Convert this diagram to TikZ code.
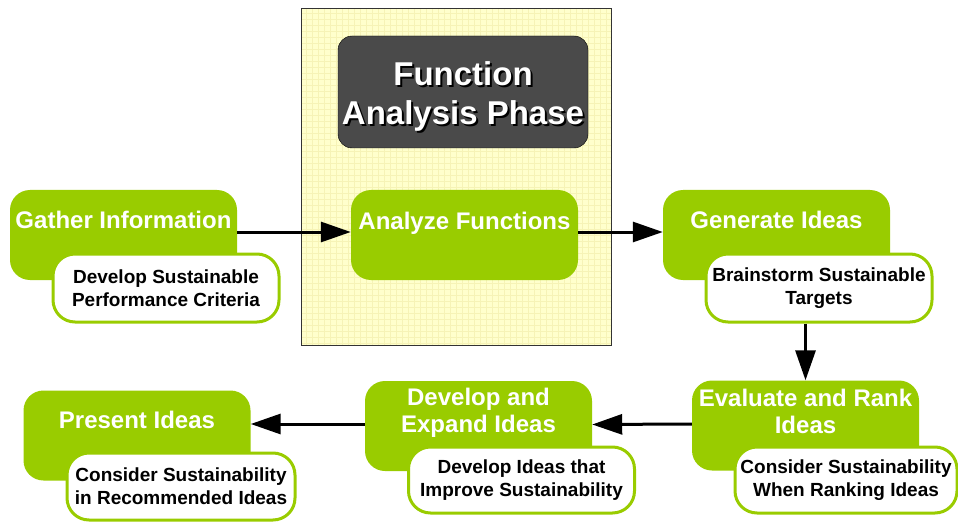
\documentclass[tikz,border=0pt]{standalone}
\usepackage{fontspec}
\setmainfont{Liberation Sans}
\usetikzlibrary{arrows.meta,positioning}
\definecolor{leaf}{HTML}{99CC00}
\definecolor{panel}{HTML}{FFFFCC}
\definecolor{panelgrid}{HTML}{F6F3B6}
\definecolor{phase}{HTML}{4A4A4A}
\tikzset{
  stepbox/.style={fill=leaf,rounded corners=20pt,minimum width=227pt,minimum height=90pt,inner sep=0pt},
  notebox/.style={fill=white,draw=leaf,line width=3pt,rounded corners=22pt,minimum width=226pt,minimum height=68pt,align=center,inner sep=0pt,font=\bfseries\fontsize{19}{23}\selectfont},
  steptitle/.style={text=white,align=center,font=\bfseries\fontsize{24}{27.5}\selectfont},
  phasetitle/.style={align=center,font=\bfseries\fontsize{33}{39}\selectfont},
  flow/.style={line width=3pt,-{Triangle[length=30pt,width=20pt]}}
}
\begin{document}
\begin{tikzpicture}[x=1pt,y=1pt]
  \useasboundingbox (0,0) rectangle (958,523);
  % Panel
  \fill[panel] (301,178) rectangle (611,514);
  \draw[panelgrid,line width=0.3pt,step=6pt] (301,178) grid (611,514);
  \draw[black!80,line width=1pt] (301,178) rectangle (611,514);
  % Phase title
  \node[fill=phase,draw=black,rounded corners=14pt,minimum width=250pt,minimum height=112pt] (phase) at (463,431) {};
  \node[phasetitle,text=black] (phaseshadow) at ([xshift=2,yshift=-6]phase.center) {Function\\Analysis Phase};
  \node[phasetitle,text=white] (phasetext) at ([yshift=-4]phase.center) {Function\\Analysis Phase};
  % Steps
  \node[stepbox] (gather) at (123.5,288) {};
  \node[stepbox] (analyze) at (464.5,288) {};
  \node[stepbox] (generate) at (776.5,288) {};
  \node[stepbox] (evaluate) at (805.5,97.5) {};
  \node[stepbox] (develop) at (478.5,97) {};
  \node[stepbox] (present) at (137,87.5) {};
  % Notes
  \node[notebox] (gathernote) at (166,235) {Develop Sustainable\\Performance Criteria};
  \node[notebox] (generatenote) at (819,235) {Brainstorm Sustainable\\Targets};
  \node[notebox,minimum width=222pt,minimum height=66pt] (evaluatenote) at (846,43) {Consider Sustainability\\When Ranking Ideas};
  \node[notebox,minimum height=66pt] (developnote) at (521.5,43) {Develop Ideas that\\Improve Sustainability};
  \node[notebox,minimum width=228pt,minimum height=67pt] (presentnote) at (181,36.5) {Consider Sustainability\\in Recommended Ideas};
  % Step titles
  \node[steptitle] (gathertitle) at ([yshift=-30pt]gather.north) {Gather Information};
  \node[steptitle] (analyzetitle) at ([yshift=-33pt]analyze.north) {Analyze Functions};
  \node[steptitle] (generatetitle) at ([yshift=-30pt]generate.north) {Generate Ideas};
  \node[steptitle] (evaluatetitle) at ([yshift=-31pt]evaluate.north) {Evaluate and Rank\\Ideas};
  \node[steptitle] (developtitle) at ([yshift=-32pt]develop.north) {Develop and\\Expand Ideas};
  \node[steptitle] (presenttitle) at ([yshift=-29.5pt]present.north) {Present Ideas};
  % Arrows
  \draw[flow] ([yshift=3pt]gather.east) -- ([yshift=3pt]analyze.west);
  \draw[flow] ([yshift=3pt]analyze.east) -- ([yshift=3pt]generate.west);
  \draw[flow] (generatenote.south -| evaluate.north) -- (evaluate.north);
  \draw[flow] ([yshift=1.5pt]evaluate.west) -- ([yshift=1.5pt]develop.east);
  \draw[flow] ([yshift=2pt]develop.west) -- ([yshift=2pt]develop.west -| present.east);
\end{tikzpicture}
\end{document}
